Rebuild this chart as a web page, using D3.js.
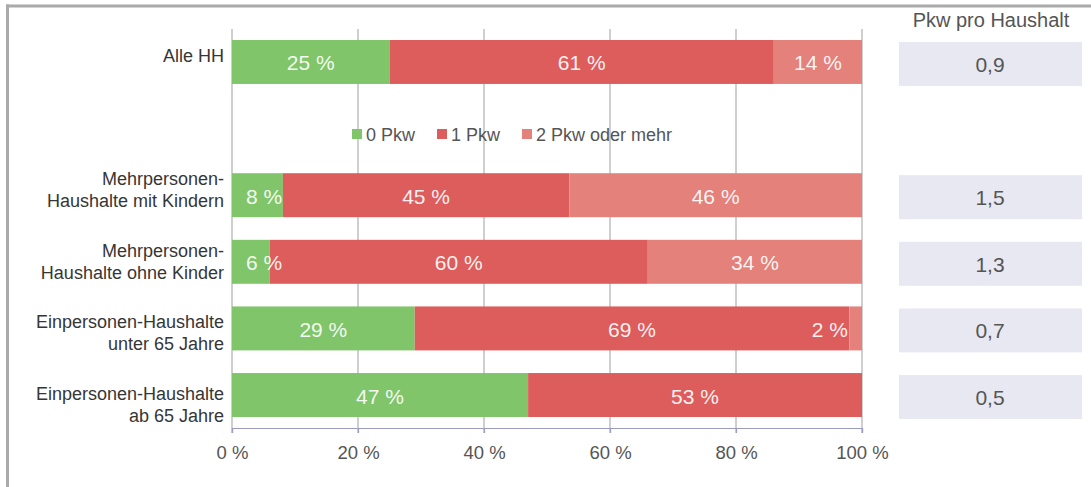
<!DOCTYPE html>
<html>
<head>
<meta charset="utf-8">
<script src="https://cdn.jsdelivr.net/npm/d3@7"></script>
<style>
  html, body { margin: 0; padding: 0; background: #fff; }
  svg { display: block; font-family: "Liberation Sans", Arial, sans-serif; }
</style>
</head>
<body>
<svg id="chart" width="1091" height="487"></svg>
<script>
// Household groups (top to bottom); the empty slot leaves room for the legend
const categories = [
  ["Alle HH"],
  null,
  ["Mehrpersonen-", "Haushalte mit Kindern"],
  ["Mehrpersonen-", "Haushalte ohne Kinder"],
  ["Einpersonen-Haushalte", "unter 65 Jahre"],
  ["Einpersonen-Haushalte", "ab 65 Jahre"]
];
const seriesNames = ["0 Pkw", "1 Pkw", "2 Pkw oder mehr"];
const share0 = [25, null, 8, 6, 29, 47];
const share1 = [61, null, 45, 60, 69, 53];
const share2 = [14, null, 46, 34, 2, 0];
const carsPerHousehold = ["0,9", null, "1,5", "1,3", "0,7", "0,5"];
const xTicks = [0, 20, 40, 60, 80, 100];
const sideTitle = "Pkw pro Haushalt";

const colors = ["#80c56a", "#dd5c5c", "#e3817a"];

const svg = d3.select("#chart");
const W = 1091, H = 487;

// outer frame (top and left edges)
svg.append("line").attr("x1", 6).attr("x2", W).attr("y1", 6).attr("y2", 6)
  .attr("stroke", "#aaa").attr("stroke-width", 3);
svg.append("line").attr("x1", 7.5).attr("x2", 7.5).attr("y1", 4.5).attr("y2", H)
  .attr("stroke", "#aaa").attr("stroke-width", 3);

const x0 = 232, x1 = 862;
const x = d3.scaleLinear().domain([0, 1]).range([x0, x1]);
const xPct = d3.scaleLinear().domain([0, 100]).range([x0, x1]);

const keys = categories.map((c, i) => "k" + i);
const y = d3.scaleBand().domain(keys).range([29, 428]).paddingInner(0.34).paddingOuter(0.165);

const rows = categories.map((c, i) => ({
  key: keys[i], label: c, v0: share0[i], v1: share1[i], v2: share2[i], avg: carsPerHousehold[i]
})).filter(r => r.label);

// two-line group labels sit on their own, slightly wider pitch
const multiKeys = rows.filter(r => r.label.length > 1).map(r => r.key);
const labelY = d3.scalePoint().domain(multiKeys).range([185, 400]);

// gridlines
svg.append("g").selectAll("line").data(xTicks).join("line")
  .attr("x1", d => xPct(d)).attr("x2", d => xPct(d))
  .attr("y1", 29).attr("y2", 433)
  .attr("stroke", "#cfcfcf").attr("stroke-width", 2);

// stacked, row-normalised bars
const stack = d3.stack().keys(["v0", "v1", "v2"]).offset(d3.stackOffsetExpand);
const stacked = stack(rows);

const g = svg.append("g");
stacked.forEach((layer, li) => {
  g.append("g").selectAll("rect").data(layer).join("rect")
    .attr("x", d => x(d[0]))
    .attr("width", d => x(d[1]) - x(d[0]))
    .attr("y", d => y(d.data.key))
    .attr("height", y.bandwidth())
    .attr("fill", colors[li]);
});

// value labels inside the segments
const valueSize = 21;
stacked.forEach((layer, li) => {
  layer.forEach(d => {
    const v = d.data[layer.key];
    if (!v) return;
    const a = x(d[0]), b = x(d[1]);
    const t = g.append("text")
      .attr("y", y(d.data.key) + y.bandwidth() / 2 + 8.5)
      .attr("fill", "#fff")
      .attr("fill-opacity", 0.93)
      .attr("font-size", valueSize)
      .text(v + " %");
    const tw = t.node().getComputedTextLength();
    if (b - a >= tw + 28) {
      t.attr("x", (a + b) / 2).attr("text-anchor", "middle");
    } else if (li === stacked.length - 1) {
      t.attr("x", b - 14).attr("text-anchor", "end");
    } else {
      t.attr("x", a + 14).attr("text-anchor", "start");
    }
  });
});

// category labels
rows.forEach(r => {
  const n = r.label.length;
  const base = n > 1 ? labelY(r.key) : y(r.key) + y.bandwidth() / 2;
  r.label.forEach((line, i) => {
    svg.append("text")
      .attr("x", 224)
      .attr("y", base + i * 22)
      .attr("text-anchor", "end")
      .attr("fill", "#363636")
      .attr("font-size", 18)
      .text(line);
  });
});

// x axis
const axis = d3.axisBottom(xPct).tickValues(xTicks).tickSize(5).tickPadding(13)
  .tickFormat(d => d + " %");
const ax = svg.append("g").attr("transform", "translate(0,428)").call(axis);
ax.select(".domain").attr("stroke", "#9a9cc2").attr("stroke-width", 1.2);
ax.selectAll(".tick line").attr("stroke", "#9a9cc2").attr("stroke-width", 1.2);
ax.selectAll(".tick text").attr("fill", "#555").attr("font-size", 18.5)
  .attr("font-family", "'Liberation Sans', Arial, sans-serif");

// legend
const legendItems = [
  { name: seriesNames[0], x: 352 },
  { name: seriesNames[1], x: 437 },
  { name: seriesNames[2], x: 522 }
];
const lg = svg.append("g");
legendItems.forEach((it, i) => {
  lg.append("rect").attr("x", it.x).attr("y", 129).attr("width", 10).attr("height", 10).attr("fill", colors[i]);
  lg.append("text").attr("x", it.x + 14).attr("y", 140.5)
    .attr("fill", "#555").attr("font-size", 18).text(it.name);
});

// side panel: cars per household
svg.append("text").attr("x", 991).attr("y", 26.5).attr("text-anchor", "middle")
  .attr("fill", "#555").attr("font-size", 20).text(sideTitle);
rows.forEach(r => {
  const top = y(r.key) + 2;
  svg.append("rect").attr("x", 899).attr("y", top).attr("width", 183).attr("height", y.bandwidth())
    .attr("fill", "#e8e8f3");
  svg.append("text").attr("x", 990).attr("y", top + y.bandwidth() / 2 + 8)
    .attr("text-anchor", "middle").attr("fill", "#555").attr("font-size", 21)
    .text(r.avg);
});
</script>
</body>
</html>
